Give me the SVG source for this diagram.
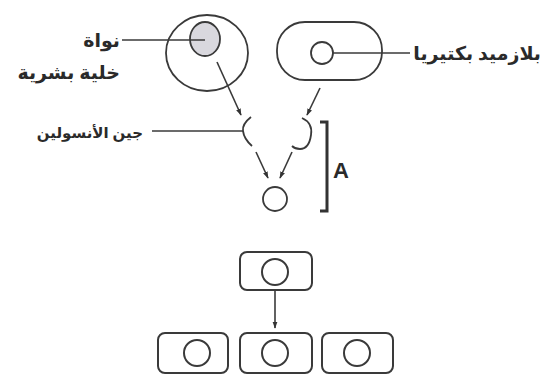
<svg xmlns="http://www.w3.org/2000/svg" width="542" height="377" viewBox="0 0 542 377">
  <defs>
    <marker id="arrow" viewBox="0 0 10 10" refX="9" refY="5" markerWidth="7" markerHeight="7" orient="auto" markerUnits="userSpaceOnUse">
      <path d="M0,1.5 L10,5 L0,8.5 Z" fill="#333"/>
    </marker>
  </defs>
  <style>
    .ln { fill: none; stroke: #3a3a3a; stroke-width: 1.8; }
    .thin { fill: none; stroke: #3a3a3a; stroke-width: 1.5; }
    .arr { fill: none; stroke: #3a3a3a; stroke-width: 1.6; marker-end: url(#arrow); }
    .cell { fill: #fff; stroke: #3a3a3a; stroke-width: 2; }
    .lbl { font-family: "Noto Sans", "DejaVu Sans", sans-serif; fill: #2a2a2a; font-weight: bold; }
  </style>
  <rect width="542" height="377" fill="#fff"/>

  <!-- human cell with nucleus -->
  <g id="human-cell">
    <ellipse cx="207" cy="53" rx="41" ry="38" class="ln"/>
    <ellipse cx="205" cy="39" rx="15" ry="17" fill="#d9d8de" stroke="#3a3a3a" stroke-width="1.8"/>
    <line x1="122" y1="40" x2="205" y2="40" class="thin"/>
    <text x="120" y="47" class="lbl" font-size="19" text-anchor="end">نواة</text>
    <text x="120" y="79" class="lbl" font-size="19" text-anchor="end">خلية بشرية</text>
  </g>

  <!-- bacterium with plasmid -->
  <g id="bacterium">
    <rect x="277" y="22" width="105" height="58" rx="28" class="ln"/>
    <circle cx="322" cy="53" r="11" class="ln"/>
    <line x1="333" y1="53" x2="410" y2="53" class="thin"/>
    <text x="541" y="60" class="lbl" font-size="19" text-anchor="end">بلازميد بكتيريا</text>
  </g>

  <!-- cut pieces: insulin gene and opened plasmid -->
  <g id="insulin-gene">
    <path d="M251,117 Q242,124 243,131 Q244,139 252,146" class="ln"/>
    <line x1="152" y1="131" x2="243" y2="131" class="thin"/>
    <text x="143" y="138" class="lbl" font-size="15" text-anchor="end">جين الأنسولين</text>
  </g>
  <g id="open-plasmid">
    <path d="M302,118 Q313,123 311,135 Q309,149 300,149 Q295,149 292,146" class="ln"/>
  </g>

  <!-- recombinant plasmid -->
  <g id="recombinant">
    <circle cx="275" cy="199" r="12" class="ln"/>
  </g>

  <!-- bracket A -->
  <g id="step-a">
    <path d="M320,122 L327,122 L327,211 L320,211" fill="none" stroke="#333" stroke-width="3"/>
    <text x="333" y="178" font-family="Liberation Sans, Arial, sans-serif" font-weight="bold" font-size="22" fill="#2a2a2a">A</text>
  </g>

  <!-- dividing bacteria -->
  <g id="parent-cell">
    <rect x="240" y="252" width="72" height="38" rx="7" class="cell"/>
    <circle cx="275" cy="272" r="13" class="cell"/>
  </g>
  <g id="daughter-left">
    <rect x="158" y="333" width="70" height="40" rx="7" class="cell"/>
    <circle cx="197" cy="353" r="13" class="cell"/>
  </g>
  <g id="daughter-mid">
    <rect x="240" y="333" width="72" height="40" rx="7" class="cell"/>
    <circle cx="275" cy="353" r="13" class="cell"/>
  </g>
  <g id="daughter-right">
    <rect x="322" y="333" width="71" height="40" rx="7" class="cell"/>
    <circle cx="357" cy="353" r="13" class="cell"/>
  </g>

  <!-- connectors -->
  <g id="connectors">
    <line x1="217" y1="62" x2="241" y2="115" class="arr"/>
    <line x1="320" y1="88" x2="307" y2="115" class="arr"/>
    <line x1="256" y1="152" x2="268" y2="178" class="arr"/>
    <line x1="292" y1="152" x2="280" y2="178" class="arr"/>
    <line x1="275" y1="291" x2="275" y2="328" class="arr"/>
  </g>
</svg>
